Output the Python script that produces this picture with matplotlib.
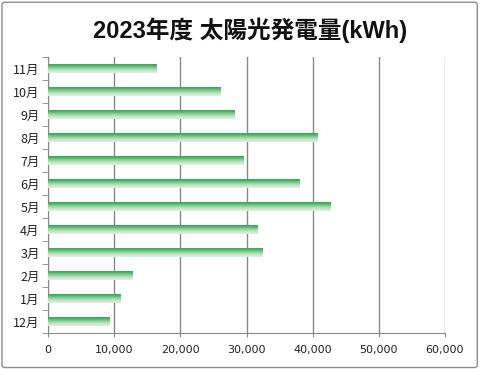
import numpy as np
import matplotlib
matplotlib.use('Agg')
import matplotlib.pyplot as plt
from matplotlib.colors import LinearSegmentedColormap
from matplotlib.patches import FancyBboxPatch

months = ['12月', '1月', '2月', '3月', '4月', '5月', '6月', '7月', '8月', '9月', '10月', '11月']
kwh = [9300, 11000, 12800, 32400, 31700, 42700, 38000, 29500, 40700, 28200, 26100, 16400]
xticks = [0, 10000, 20000, 30000, 40000, 50000, 60000]
xlabels = ['0', '10,000', '20,000', '30,000', '40,000', '50,000', '60,000']

plt.rcParams['font.family'] = ['Noto Sans CJK JP', 'DejaVu Sans']

fig = plt.figure(figsize=(4.85, 3.69), dpi=100)
# outer border of the chart area
fig.patches.append(FancyBboxPatch((0.004, 0.004), 0.98, 0.99, boxstyle='round,pad=0,rounding_size=0.006',
                                  transform=fig.transFigure, fill=False, edgecolor='#8c8c8c', linewidth=1.0))

ax = fig.add_axes([0.099, 0.0976, 0.8185, 0.748])
ypos = np.arange(len(months))
bh = 0.4

grad = LinearSegmentedColormap.from_list('g', ['#e6ece6', '#c8e4c8', '#8fd098', '#45b563', '#2a9e4c'])
gimg = np.linspace(0, 1, 64).reshape(-1, 1)

bars = ax.barh(ypos, kwh, height=bh, color='none', edgecolor='none')
for b in bars:
    x0, y0 = b.get_x(), b.get_y()
    im = ax.imshow(gimg, cmap=grad, origin='lower', aspect='auto',
                   extent=(x0, x0 + b.get_width(), y0, y0 + b.get_height()), zorder=3)
    im.set_clip_path(b)

ax.set_xlim(0, 60000)
ax.set_ylim(-0.5, len(months) - 0.5)
ax.set_xticks(xticks)
ax.set_xticklabels(xlabels, family='DejaVu Sans', fontsize=8, color='#222222')
ax.set_yticks(ypos)
ax.set_yticklabels(months, fontsize=9, color='#222222')
ax.set_yticks(np.arange(-0.5, len(months), 1), minor=True)
ax.tick_params(axis='y', which='major', length=0, pad=6)
ax.tick_params(axis='y', which='minor', length=4, color='#888888', direction='out')
ax.tick_params(axis='x', length=3, color='#888888', pad=6)
ax.grid(axis='x', color='#888888', linewidth=1)
ax.set_axisbelow(True)
for s in ['top', 'right']:
    ax.spines[s].set_visible(False)
for s in ['left', 'bottom']:
    ax.spines[s].set_color('#888888')

fig.text(0.515, 0.918, '2023年度 太陽光発電量(kWh)', ha='center', va='center',
         family=['Liberation Sans', 'Noto Sans CJK JP'],
         fontsize=17, fontweight='bold', color='#111111')

fig.savefig('out.png', dpi=100)
